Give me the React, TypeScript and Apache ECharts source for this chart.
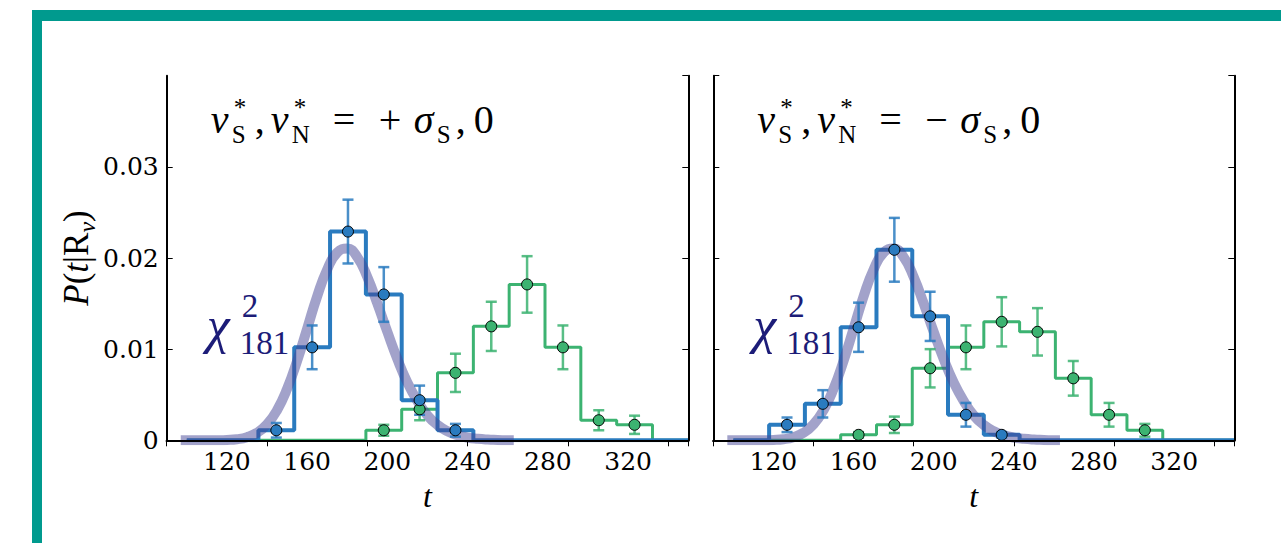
import React, { useEffect, useRef } from 'react';
import * as echarts from 'echarts';

// ---------- data ----------
const binEdges = [100, 117.86, 135.71, 153.57, 171.43, 189.29, 207.14, 225, 242.86, 260.71, 278.57, 296.43, 314.29, 332.14, 350];
const binCenters = [108.93, 126.79, 144.64, 162.5, 180.36, 198.21, 216.07, 233.93, 251.79, 269.64, 287.5, 305.36, 323.21, 341.07];

const leftBlue = [0, 0, 0.0011, 0.0102, 0.0229, 0.016, 0.0044, 0.0011, 0, 0, 0, 0, 0, 0];
const leftBlueErr = [0, 0, 0.0008, 0.0024, 0.0035, 0.003, 0.0016, 0.0007, 0, 0, 0, 0, 0, 0];
const leftGreen = [0, 0, 0, 0, 0, 0.0011, 0.0034, 0.0074, 0.0125, 0.0171, 0.0102, 0.0022, 0.0017, 0];
const leftGreenErr = [0, 0, 0, 0, 0, 0.0006, 0.0012, 0.0021, 0.0027, 0.0031, 0.0024, 0.0011, 0.001, 0];

const rightBlue = [0, 0.0017, 0.004, 0.0124, 0.0209, 0.0136, 0.0028, 0.0006, 0, 0, 0, 0, 0, 0];
const rightBlueErr = [0, 0.0008, 0.0015, 0.0027, 0.0035, 0.0027, 0.0013, 0.0003, 0, 0, 0, 0, 0, 0];
const rightGreen = [0, 0, 0, 0.0006, 0.0017, 0.0079, 0.0102, 0.013, 0.0119, 0.0068, 0.0028, 0.0011, 0, 0];
const rightGreenErr = [0, 0, 0, 0.0003, 0.0009, 0.0021, 0.0024, 0.0027, 0.0026, 0.0019, 0.0013, 0.0007, 0, 0];

const chiT = [97, 100, 105, 110, 115, 120, 125, 130, 135, 140, 145, 150, 155, 160, 165, 170, 175, 180, 185, 190, 195, 200, 205, 210, 215, 220, 225, 230, 235, 240, 245, 250, 255, 260, 263];
const chiP = [0, 0, 0, 0, 0.00001, 0.00004, 0.00012, 0.00034, 0.00082, 0.00174, 0.0033, 0.00563, 0.0087, 0.01224, 0.0158, 0.01874, 0.0206, 0.02104, 0.0201, 0.01792, 0.015, 0.01189, 0.0089, 0.00632, 0.0043, 0.00273, 0.00168, 0.00099, 0.00056, 0.0003, 0.00016, 0.00008, 0.00004, 0, 0];

const xTickLabels = [120, 160, 200, 240, 280, 320];
const yTickLabels = ['0', '0.01', '0.02', '0.03'];
const panelSigns = ['+', '\u2212'];

// ---------- styles ----------
const BLUE = '#2a7bbf';
const BLUE_ERR = 'rgba(42,123,191,0.85)';
const GREEN = '#3cb371';
const GREEN_ERR = 'rgba(60,179,113,0.85)';
const CHI = 'rgba(70,70,150,0.5)';
const NAVY = '#1c1c78';
const TEAL = '#009a8e';
const TICK_FONT = '"DejaVu Serif", "Liberation Serif", "Times New Roman", serif';
const MATH_FONT = '"Liberation Serif", "DejaVu Serif", "Times New Roman", serif';

const grids = [
  { left: 166.7, top: 75.7, width: 521.6, height: 364.6 },
  { left: 713.3, top: 75.7, width: 521, height: 364.6 },
];

function stepSeries(values: number[], color: string, width: number, g: number) {
  return {
    type: 'line',
    xAxisIndex: 2 * g,
    yAxisIndex: 2 * g,
    step: 'end',
    symbol: 'none',
    clip: true,
    z: 2,
    lineStyle: { color, width },
    data: binEdges.map((e, i) => [e, values[Math.min(i, values.length - 1)]]),
  };
}

function errSeries(values: number[], errs: number[], color: string, g: number) {
  const data = binCenters
    .map((c, i) => [c, values[i], errs[i]])
    .filter((d) => d[1] > 0);
  return {
    type: 'custom',
    xAxisIndex: 2 * g,
    yAxisIndex: 2 * g,
    z: 4,
    encode: { x: 0, y: 1 },
    data,
    renderItem: (params: any, api: any) => {
      const x = api.value(0);
      const v = api.value(1);
      const e = api.value(2);
      const lo = api.coord([x, v - e]);
      const hi = api.coord([x, v + e]);
      const w = 5.5;
      const st = { stroke: color, lineWidth: 2.5 };
      return {
        type: 'group',
        children: [
          { type: 'line', shape: { x1: lo[0], y1: lo[1], x2: hi[0], y2: hi[1] }, style: st },
          { type: 'line', shape: { x1: lo[0] - w, y1: lo[1], x2: lo[0] + w, y2: lo[1] }, style: st },
          { type: 'line', shape: { x1: hi[0] - w, y1: hi[1], x2: hi[0] + w, y2: hi[1] }, style: st },
        ],
      };
    },
  };
}

function pointSeries(values: number[], color: string, g: number) {
  return {
    type: 'scatter',
    xAxisIndex: 2 * g,
    yAxisIndex: 2 * g,
    z: 5,
    symbol: 'circle',
    symbolSize: 11,
    itemStyle: { color, borderColor: '#000', borderWidth: 1, opacity: 1 },
    data: binCenters.map((c, i) => [c, values[i]]).filter((d) => d[1] > 0),
  };
}

function chiSeries(g: number) {
  return {
    type: 'line',
    xAxisIndex: 2 * g,
    yAxisIndex: 2 * g,
    smooth: true,
    symbol: 'none',
    clip: true,
    z: 3,
    lineStyle: { color: CHI, width: 10, cap: 'butt' },
    data: chiT.map((t, i) => [t, chiP[i]]),
  };
}

const axisLineStyle = { show: true, lineStyle: { color: '#000', width: 2 } };

function xAxes(g: number) {
  return [
    {
      type: 'value',
      gridIndex: g,
      position: 'bottom',
      min: 90,
      max: 350,
      interval: 10,
      z: 10,
      axisLine: axisLineStyle,
      axisTick: { show: false },
      splitLine: { show: false },
      axisLabel: {
        showMinLabel: false,
        showMaxLabel: false,
        margin: 9,
        fontSize: 25,
        fontFamily: TICK_FONT,
        color: '#000',
        formatter: (v: number) => (xTickLabels.indexOf(Math.round(v)) >= 0 ? String(Math.round(v)) : ''),
      },
      name: 't',
      nameLocation: 'middle',
      nameGap: 40,
      nameTextStyle: { fontSize: 32, fontStyle: 'italic', fontFamily: MATH_FONT, color: '#000' },
    },
    {
      type: 'value',
      gridIndex: g,
      position: 'top',
      min: 90,
      max: 350,
      interval: 50,
      z: 10,
      axisLine: axisLineStyle,
      axisTick: { show: true, inside: true, length: 6, lineStyle: { color: '#000', width: 1 } },
      splitLine: { show: false },
      axisLabel: { show: false },
    },
  ];
}

function yAxes(g: number) {
  const left: any = {
    type: 'value',
    gridIndex: g,
    position: 'left',
    min: 0,
    max: 0.04,
    interval: 0.01,
    z: 10,
    axisLine: axisLineStyle,
    axisTick: { show: true, inside: true, length: 6, lineStyle: { color: '#000', width: 1 } },
    splitLine: { show: false },
    axisLabel: {
      show: g === 0,
      showMaxLabel: false,
      margin: 8,
      fontSize: 25,
      fontFamily: TICK_FONT,
      color: '#000',
      formatter: (v: number) => {
        const i = Math.round(v / 0.01);
        return i < yTickLabels.length ? yTickLabels[i] : '';
      },
    },
  };
  if (g === 0) {
    left.name = '{i|P}{n|(}{i|t}{n||R}{s|\u03bd}{n|)}';
    left.nameLocation = 'middle';
    left.nameRotate = 90;
    left.nameGap = 62;
    left.nameTextStyle = {
      color: '#000',
      rich: {
        i: { fontStyle: 'italic', fontSize: 35, fontFamily: MATH_FONT, lineHeight: 46, color: '#000' },
        n: { fontSize: 35, fontFamily: MATH_FONT, lineHeight: 46, color: '#000' },
        s: { fontStyle: 'italic', fontSize: 24, fontFamily: MATH_FONT, lineHeight: 23, verticalAlign: 'bottom', color: '#000' },
      },
    };
  }
  return [
    left,
    {
      type: 'value',
      gridIndex: g,
      position: 'right',
      min: 0,
      max: 0.04,
      interval: 0.01,
      z: 10,
      axisLine: axisLineStyle,
      axisTick: { show: true, inside: true, length: 6, lineStyle: { color: '#000', width: 1 } },
      splitLine: { show: false },
      axisLabel: { show: false },
    },
  ];
}

// text piece: [text, dx, baselineDy, fontSize, italic]
type Piece = [string, number, number, number, boolean];

function mathGroup(pieces: Piece[], x0: number, base: number, color: string) {
  return {
    type: 'group',
    children: pieces.map(([t, dx, dy, fs, it]) => ({
      type: 'text',
      x: x0 + dx,
      y: base + dy - 0.34 * fs,
      style: {
        text: t,
        fill: color,
        fontSize: fs,
        fontStyle: it ? 'italic' : 'normal',
        fontFamily: MATH_FONT,
        align: 'left',
        verticalAlign: 'middle',
      },
    })),
  };
}

function titlePieces(sign: string): Piece[] {
  const M = 40;
  const S = 25;
  return [
    ['\u03bd', 0, 0, M, true],
    ['*', 23, -17, S, false],
    ['S', 21, 10, S, false],
    [',', 44, 0, M, false],
    ['\u03bd', 60, 0, M, true],
    ['*', 83, -17, S, false],
    ['N', 81, 10, S, false],
    ['=', 122, 0, M, false],
    [sign, 168, 0, M, false],
    ['\u03c3', 203, 0, M, true],
    ['S', 226, 10, S, false],
    [',', 245, 0, M, false],
    ['0', 263, 0, M, false],
  ];
}

const chiPieces: Piece[] = [
  ['\u03c7', 0, 0, 52, true],
  ['2', 35, -26, 33, false],
  ['181', 33, 11, 33, false],
];

export default function App() {
  const ref = useRef<HTMLDivElement>(null);
  useEffect(() => {
    if (!ref.current) return;
    const chart = echarts.init(ref.current, null, { renderer: 'svg' });
    const series: any[] = [];
    const panels = [
      { blue: leftBlue, blueErr: leftBlueErr, green: leftGreen, greenErr: leftGreenErr },
      { blue: rightBlue, blueErr: rightBlueErr, green: rightGreen, greenErr: rightGreenErr },
    ];
    panels.forEach((p, g) => {
      series.push(stepSeries(p.green, GREEN, 3, g));
      series.push(stepSeries(p.blue, BLUE, 4, g));
      series.push(chiSeries(g));
      series.push(errSeries(p.green, p.greenErr, GREEN_ERR, g));
      series.push(errSeries(p.blue, p.blueErr, BLUE_ERR, g));
      series.push(pointSeries(p.green, GREEN, g));
      series.push(pointSeries(p.blue, BLUE, g));
    });
    const graphics: any[] = [
      { type: 'rect', shape: { x: 32, y: 10, width: 1249, height: 11 }, style: { fill: TEAL }, silent: true },
      { type: 'rect', shape: { x: 32, y: 10, width: 10, height: 533 }, style: { fill: TEAL }, silent: true },
    ];
    grids.forEach((gr, g) => {
      graphics.push(mathGroup(titlePieces(panelSigns[g]), gr.left + 44, 133, '#000'));
      graphics.push(mathGroup(chiPieces, gr.left + 40, 343, NAVY));
    });
    chart.setOption({
      animation: false,
      backgroundColor: '#fff',
      grid: grids.map((g) => ({ ...g, containLabel: false })),
      xAxis: [...xAxes(0), ...xAxes(1)],
      yAxis: [...yAxes(0), ...yAxes(1)],
      series,
      graphic: graphics,
    });
    return () => chart.dispose();
  }, []);
  return (
    <div
      ref={ref}
      style={{ position: 'fixed', left: 0, top: 0, width: 1281, height: 543, background: '#fff' }}
    />
  );
}
